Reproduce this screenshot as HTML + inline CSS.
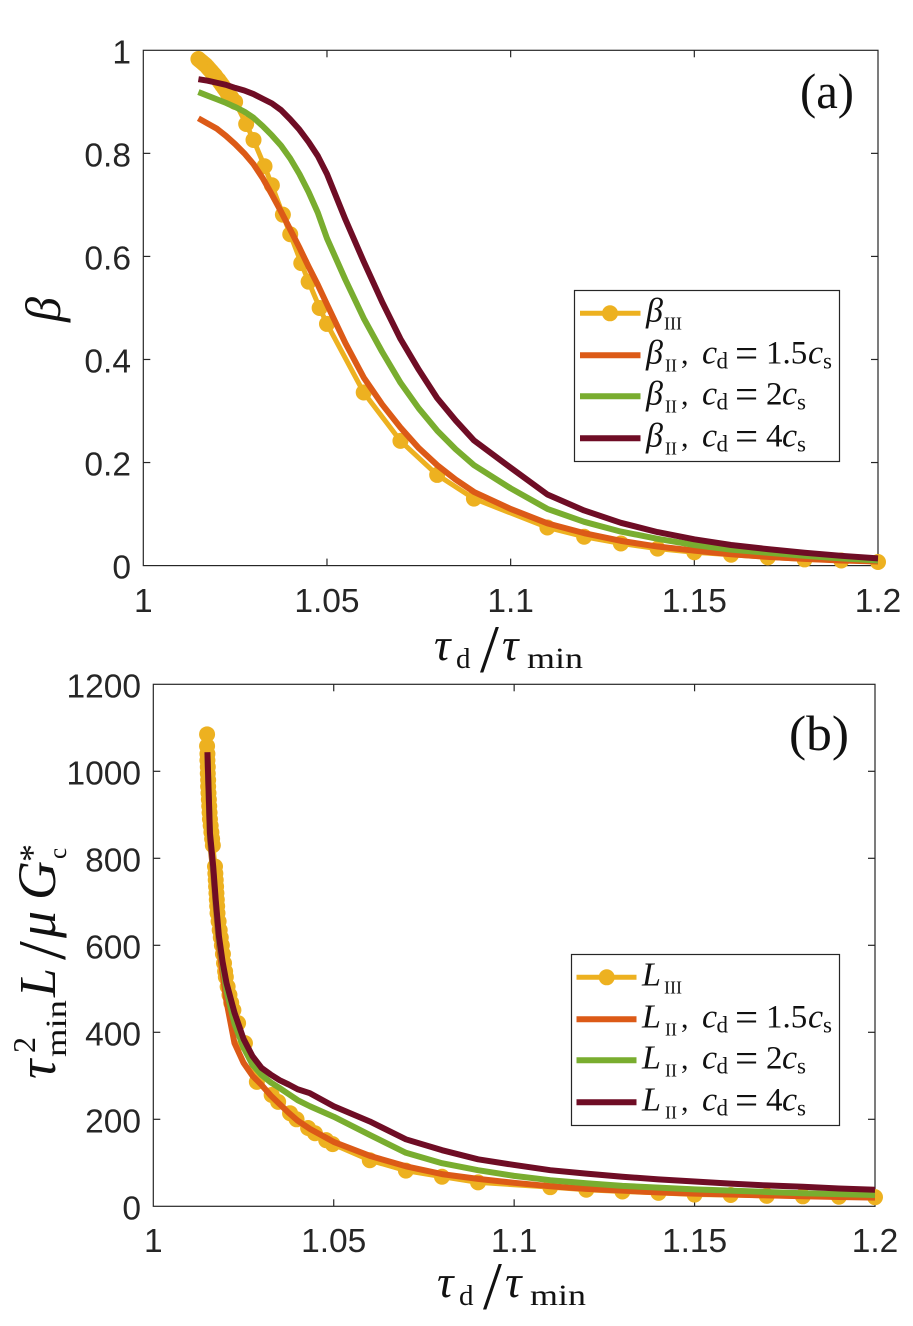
<!DOCTYPE html>
<html lang="en">
<head>
<meta charset="utf-8">
<title>Beta and L versus tau ratio</title>
<style>
html,body{margin:0;padding:0;background:#fff;}
svg{display:block;}
.tick{font-family:"Liberation Sans",sans-serif;font-size:33.5px;fill:#262626;}
.m{font-family:"Liberation Serif",serif;fill:#111;}
.i{font-style:italic;}
</style>
</head>
<body>
<svg id="chart" xmlns="http://www.w3.org/2000/svg" width="913" height="1326" viewBox="0 0 913 1326">
<rect width="913" height="1326" fill="#fff"/>
<g id="panelA"></g>
<g id="panelB"></g>

<!-- Panel a labels -->
<text class="m" x="800" y="108" font-size="50" textLength="54" lengthAdjust="spacingAndGlyphs">(a)</text>
<text class="m i" x="60" y="322" font-size="50" transform="rotate(-90 60 322)">β</text>
<g>
<text class="m i" x="434" y="660" font-size="46">τ</text>
<text class="m" x="456" y="668" font-size="29">d</text>
<text class="m" x="480" y="672" font-size="68">/</text>
<text class="m i" x="502" y="660" font-size="46">τ</text>
<text class="m" x="527" y="668" font-size="30" textLength="56" lengthAdjust="spacingAndGlyphs">min</text>
</g>

<!-- Panel b labels -->
<text class="m" x="789" y="750" font-size="50" textLength="60" lengthAdjust="spacingAndGlyphs">(b)</text>
<g>
<text class="m i" x="437" y="1297" font-size="46">τ</text>
<text class="m" x="459" y="1305" font-size="29">d</text>
<text class="m" x="483" y="1309" font-size="68">/</text>
<text class="m i" x="505" y="1297" font-size="46">τ</text>
<text class="m" x="530" y="1305" font-size="30" textLength="56" lengthAdjust="spacingAndGlyphs">min</text>
</g>
<g>
<text class="m i" x="55" y="1079" font-size="54" transform="rotate(-90 55 1079)">τ</text>
<text class="m" x="35" y="1053" font-size="32" transform="rotate(-90 35 1053)">2</text>
<text class="m" x="66" y="1057" font-size="30" textLength="57" lengthAdjust="spacingAndGlyphs" transform="rotate(-90 66 1057)">min</text>
<text class="m i" x="55" y="997" font-size="52" transform="rotate(-90 55 997)">L</text>
<text class="m" x="65" y="960" font-size="68" transform="rotate(-90 65 960)">/</text>
<text class="m i" x="55" y="938" font-size="54" transform="rotate(-90 55 938)">μ</text>
<text class="m i" x="55" y="900" font-size="54" transform="rotate(-90 55 900)">G</text>
<text class="m" x="44" y="862" font-size="36" transform="rotate(-90 44 862)">*</text>
<text class="m" x="66" y="859" font-size="25" transform="rotate(-90 66 859)">c</text>
</g>

<!-- Legend a -->
<g>
<rect x="574.5" y="290.5" width="265" height="171" fill="#fff" stroke="#262626" stroke-width="1.2"/>
<line x1="580" x2="640.5" y1="313.3" y2="313.3" stroke="#EDB120" stroke-width="5"/>
<circle cx="610" cy="313.3" r="8" fill="#EDB120"/>
<line x1="580" x2="640.5" y1="355.3" y2="355.3" stroke="#DC5A17" stroke-width="6"/>
<line x1="580" x2="640.5" y1="396.3" y2="396.3" stroke="#79AD2F" stroke-width="6"/>
<line x1="580" x2="640.5" y1="438.3" y2="438.3" stroke="#6F0D25" stroke-width="6"/>
<text class="m"><tspan class="i" x="646" y="321.3" font-size="34">β</tspan><tspan x="664" y="329.3" font-size="18">III</tspan></text>
<text class="m"><tspan class="i" x="646" y="363.3" font-size="34">β</tspan><tspan x="665" y="371.3" font-size="18">II</tspan><tspan x="681" y="363.3" font-size="30">,</tspan><tspan class="i" x="702" y="363.3" font-size="34">c</tspan><tspan x="716.5" y="368.3" font-size="23">d</tspan><tspan x="735" y="367" font-size="41">=</tspan><tspan x="766" y="363.3" font-size="33">1.5</tspan><tspan class="i" x="808" y="363.3" font-size="34">c</tspan><tspan x="823" y="368.3" font-size="23">s</tspan></text>
<text class="m"><tspan class="i" x="646" y="404.3" font-size="34">β</tspan><tspan x="665" y="412.3" font-size="18">II</tspan><tspan x="681" y="404.3" font-size="30">,</tspan><tspan class="i" x="702" y="404.3" font-size="34">c</tspan><tspan x="716.5" y="409.3" font-size="23">d</tspan><tspan x="735" y="408" font-size="41">=</tspan><tspan x="766" y="404.3" font-size="33">2</tspan><tspan class="i" x="782" y="404.3" font-size="34">c</tspan><tspan x="797" y="409.3" font-size="23">s</tspan></text>
<text class="m"><tspan class="i" x="646" y="446.3" font-size="34">β</tspan><tspan x="665" y="454.3" font-size="18">II</tspan><tspan x="681" y="446.3" font-size="30">,</tspan><tspan class="i" x="702" y="446.3" font-size="34">c</tspan><tspan x="716.5" y="451.3" font-size="23">d</tspan><tspan x="735" y="450" font-size="41">=</tspan><tspan x="766" y="446.3" font-size="33">4</tspan><tspan class="i" x="782" y="446.3" font-size="34">c</tspan><tspan x="797" y="451.3" font-size="23">s</tspan></text>
</g>

<!-- Legend b -->
<g>
<rect x="571.5" y="954.5" width="268" height="171" fill="#fff" stroke="#262626" stroke-width="1.2"/>
<line x1="576.5" x2="636.5" y1="977.3" y2="977.3" stroke="#EDB120" stroke-width="5"/>
<circle cx="606.7" cy="977.3" r="8" fill="#EDB120"/>
<line x1="576.5" x2="636.5" y1="1019.3" y2="1019.3" stroke="#DC5A17" stroke-width="6"/>
<line x1="576.5" x2="636.5" y1="1060.3" y2="1060.3" stroke="#79AD2F" stroke-width="6"/>
<line x1="576.5" x2="636.5" y1="1102.3" y2="1102.3" stroke="#6F0D25" stroke-width="6"/>
<text class="m"><tspan class="i" x="642" y="985.3" font-size="34">L</tspan><tspan x="664" y="993.3" font-size="18">III</tspan></text>
<text class="m"><tspan class="i" x="642" y="1027.3" font-size="34">L</tspan><tspan x="665" y="1035.3" font-size="18">II</tspan><tspan x="681" y="1027.3" font-size="30">,</tspan><tspan class="i" x="702" y="1027.3" font-size="34">c</tspan><tspan x="716.5" y="1032.3" font-size="23">d</tspan><tspan x="735" y="1031" font-size="41">=</tspan><tspan x="766" y="1027.3" font-size="33">1.5</tspan><tspan class="i" x="808" y="1027.3" font-size="34">c</tspan><tspan x="823" y="1032.3" font-size="23">s</tspan></text>
<text class="m"><tspan class="i" x="642" y="1068.3" font-size="34">L</tspan><tspan x="665" y="1076.3" font-size="18">II</tspan><tspan x="681" y="1068.3" font-size="30">,</tspan><tspan class="i" x="702" y="1068.3" font-size="34">c</tspan><tspan x="716.5" y="1073.3" font-size="23">d</tspan><tspan x="735" y="1072" font-size="41">=</tspan><tspan x="766" y="1068.3" font-size="33">2</tspan><tspan class="i" x="782" y="1068.3" font-size="34">c</tspan><tspan x="797" y="1073.3" font-size="23">s</tspan></text>
<text class="m"><tspan class="i" x="642" y="1110.3" font-size="34">L</tspan><tspan x="665" y="1118.3" font-size="18">II</tspan><tspan x="681" y="1110.3" font-size="30">,</tspan><tspan class="i" x="702" y="1110.3" font-size="34">c</tspan><tspan x="716.5" y="1115.3" font-size="23">d</tspan><tspan x="735" y="1114" font-size="41">=</tspan><tspan x="766" y="1110.3" font-size="33">4</tspan><tspan class="i" x="782" y="1110.3" font-size="34">c</tspan><tspan x="797" y="1115.3" font-size="23">s</tspan></text>
</g>
</svg>

<script>
// Shared tick values
const xTicks = [1, 1.05, 1.1, 1.15, 1.2];
const xTickLabels = ['1', '1.05', '1.1', '1.15', '1.2'];
const yTicksA = [0, 0.2, 0.4, 0.6, 0.8, 1];
const yTickLabelsA = ['0', '0.2', '0.4', '0.6', '0.8', '1'];
const yTicksB = [0, 200, 400, 600, 800, 1000, 1200];
const yTickLabelsB = ['0', '200', '400', '600', '800', '1000', '1200'];

// Panel (a): beta
const betaIIIx = [1.015, 1.0155, 1.016, 1.0165, 1.017, 1.0175, 1.018, 1.0185, 1.019, 1.0195, 1.02, 1.0205, 1.021, 1.0215, 1.022, 1.0225, 1.023, 1.024, 1.025, 1.028, 1.03, 1.033, 1.035, 1.038, 1.04, 1.043, 1.045, 1.048, 1.05, 1.06, 1.07, 1.08, 1.09, 1.11, 1.12, 1.13, 1.14, 1.15, 1.16, 1.17, 1.18, 1.19, 1.2];
const betaIIIy = [0.983, 0.98, 0.977, 0.974, 0.971, 0.967, 0.963, 0.959, 0.955, 0.951, 0.946, 0.942, 0.937, 0.932, 0.927, 0.922, 0.916, 0.908, 0.9, 0.857, 0.826, 0.775, 0.738, 0.681, 0.643, 0.587, 0.551, 0.5, 0.469, 0.336, 0.242, 0.176, 0.13, 0.074, 0.056, 0.043, 0.033, 0.026, 0.021, 0.016, 0.012, 0.01, 0.007];
const betaLineX = [1.015, 1.0175, 1.02, 1.0225, 1.025, 1.0275, 1.03, 1.0325, 1.035, 1.0375, 1.04, 1.0425, 1.045, 1.0475, 1.05, 1.055, 1.06, 1.065, 1.07, 1.075, 1.08, 1.085, 1.09, 1.1, 1.11, 1.12, 1.13, 1.14, 1.15, 1.16, 1.17, 1.18, 1.19, 1.2];
const betaII15 = [0.868, 0.858, 0.848, 0.834, 0.818, 0.8, 0.779, 0.752, 0.72, 0.687, 0.652, 0.617, 0.58, 0.545, 0.507, 0.432, 0.365, 0.313, 0.268, 0.228, 0.195, 0.167, 0.143, 0.11, 0.082, 0.063, 0.048, 0.037, 0.029, 0.022, 0.017, 0.013, 0.01, 0.008];
const betaII2 = [0.919, 0.912, 0.905, 0.898, 0.89, 0.881, 0.869, 0.853, 0.835, 0.815, 0.79, 0.76, 0.725, 0.685, 0.635, 0.555, 0.48, 0.415, 0.355, 0.305, 0.262, 0.226, 0.195, 0.15, 0.11, 0.085, 0.066, 0.052, 0.04, 0.031, 0.025, 0.019, 0.014, 0.01];
const betaII4 = [0.944, 0.941, 0.937, 0.933, 0.927, 0.922, 0.915, 0.906, 0.897, 0.884, 0.866, 0.846, 0.822, 0.795, 0.76, 0.672, 0.59, 0.512, 0.44, 0.38, 0.325, 0.282, 0.243, 0.19, 0.138, 0.107, 0.083, 0.065, 0.051, 0.04, 0.032, 0.025, 0.019, 0.014];

// Panel (b): L
const lenIIIx = [1.0149, 1.0149, 1.015, 1.015, 1.0151, 1.0151, 1.0152, 1.0152, 1.0153, 1.0154, 1.0155, 1.0156, 1.0157, 1.0159, 1.0161, 1.0163, 1.0165, 1.0171, 1.0172, 1.0173, 1.0174, 1.0175, 1.0176, 1.0177, 1.0178, 1.0181, 1.0184, 1.0187, 1.019, 1.0193, 1.0196, 1.0199, 1.0201, 1.0206, 1.0211, 1.0216, 1.0222, 1.0235, 1.0254, 1.0287, 1.0328, 1.0346, 1.0379, 1.0397, 1.0429, 1.0448, 1.0479, 1.0497, 1.06, 1.07, 1.08, 1.09, 1.11, 1.12, 1.13, 1.14, 1.15, 1.16, 1.17, 1.18, 1.19, 1.2];
const lenIIIy = [1085, 1058, 1040, 1025, 1010, 995, 980, 965, 950, 935, 920, 905, 890, 875, 860, 845, 830, 781, 765, 750, 735, 720, 705, 690, 674, 655, 635, 618, 600, 580, 559, 540, 527, 505, 486, 468, 451, 421, 375, 286, 256, 240, 214, 200, 180, 168, 152, 143, 106, 82, 68, 55, 44, 38, 34, 31, 27, 26, 24, 23, 22, 21];
const lenLineX = [1.015, 1.0157, 1.0166, 1.0173, 1.0182, 1.0192, 1.0203, 1.0225, 1.025, 1.0275, 1.03, 1.0325, 1.035, 1.0375, 1.04, 1.0434, 1.05, 1.06, 1.07, 1.08, 1.09, 1.1, 1.11, 1.12, 1.13, 1.14, 1.15, 1.16, 1.17, 1.18, 1.19, 1.2];
const lenII15 = [1035, 842, 768, 690, 600, 535, 470, 375, 330, 300, 279, 255, 235, 215, 197, 178, 148, 116, 92, 74, 63, 54, 46, 40, 36, 32, 29, 27, 25, 23, 21.5, 20];
const lenII2 = [1040, 852, 775, 698, 612, 555, 495, 420, 365, 325, 302, 285, 272, 258, 244, 230, 206, 164, 123, 99, 83, 70, 60, 53, 47, 43, 39, 36, 33, 30, 28, 26];
const lenII4 = [1044, 858, 781, 704, 620, 562, 513, 445, 385, 345, 318, 303, 290, 280, 269, 260, 230, 195, 154, 129, 108, 95, 83, 75, 68, 62, 57, 52, 48, 45, 41, 38];

const NS = 'http://www.w3.org/2000/svg';
const YELLOW = '#EDB120', ORANGE = '#DC5A17', GREEN = '#79AD2F', DARK = '#6F0D25', INK = '#262626';

function makeScale(d0, d1, r0, r1) {
  return function (v) { return r0 + (v - d0) / (d1 - d0) * (r1 - r0); };
}
function svgEl(tag, parent) {
  const el = document.createElementNS(NS, tag);
  parent.appendChild(el);
  return el;
}
function drawLine(parent, xs, ys, sx, sy, color, width, name) {
  const pl = svgEl('polyline', parent);
  
  
  pl.setAttribute('points', xs.map(function (x, i) { return sx(x).toFixed(2) + ',' + sy(ys[i]).toFixed(2); }).join(' '));
  pl.setAttribute('fill', 'none');
  pl.setAttribute('stroke', color);
  pl.setAttribute('stroke-width', width);
  pl.setAttribute('stroke-linejoin', 'round');
}
function drawPoints(parent, xs, ys, sx, sy, color, r, name) {
  xs.forEach(function (x, i) {
    const c = svgEl('circle', parent);
    
    
    c.setAttribute('cx', sx(x).toFixed(2));
    c.setAttribute('cy', sy(ys[i]).toFixed(2));
    c.setAttribute('r', r);
    c.setAttribute('fill', color);
  });
}
function drawAxes(parent, box, sx, sy, yTicks, yLabels, xBase, yRight) {
  const frame = svgEl('rect', parent);
  
  
  frame.setAttribute('x', box.l);
  frame.setAttribute('y', box.t);
  frame.setAttribute('width', box.r - box.l);
  frame.setAttribute('height', box.b - box.t);
  frame.setAttribute('fill', 'none');
  frame.setAttribute('stroke', INK);
  frame.setAttribute('stroke-width', '1.2');
  function tick(x1, y1, x2, y2) {
    const t = svgEl('line', parent);
    
    
    t.setAttribute('x1', x1);
    t.setAttribute('y1', y1);
    t.setAttribute('x2', x2);
    t.setAttribute('y2', y2);
    t.setAttribute('stroke', INK);
    t.setAttribute('stroke-width', '1.2');
  }
  xTicks.forEach(function (v, i) {
    const x = sx(v);
    if (i > 0 && i < xTicks.length - 1) {
      tick(x, box.b, x, box.b - 7);
      tick(x, box.t, x, box.t + 7);
    }
    const t = svgEl('text', parent);
    
    
    t.setAttribute('class', 'tick');
    t.setAttribute('x', x);
    t.setAttribute('y', xBase);
    t.setAttribute('text-anchor', 'middle');
    t.textContent = xTickLabels[i];
  });
  yTicks.forEach(function (v, i) {
    const y = sy(v);
    if (i > 0 && i < yTicks.length - 1) {
      tick(box.l, y, box.l + 7, y);
      tick(box.r, y, box.r - 7, y);
    }
    const t = svgEl('text', parent);
    
    
    t.setAttribute('class', 'tick');
    t.setAttribute('x', yRight);
    t.setAttribute('y', y + 13);
    t.setAttribute('text-anchor', 'end');
    t.textContent = yLabels[i];
  });
}

// Panel (a)
const gA = document.getElementById('panelA');
const boxA = { l: 143.3, r: 878, t: 50.3, b: 565.6 };
const xA = makeScale(1, 1.2, boxA.l, boxA.r);
const yA = makeScale(0, 1, boxA.b, boxA.t);
drawAxes(gA, boxA, xA, yA, yTicksA, yTickLabelsA, 612, 131);
drawLine(gA, betaIIIx, betaIIIy, xA, yA, YELLOW, 5, 'beta-iii-line');
drawPoints(gA, betaIIIx, betaIIIy, xA, yA, YELLOW, 8, 'beta-iii-point');
drawLine(gA, betaLineX, betaII15, xA, yA, ORANGE, 6, 'beta-ii-cd-1.5-line');
drawLine(gA, betaLineX, betaII2, xA, yA, GREEN, 6, 'beta-ii-cd-2-line');
drawLine(gA, betaLineX, betaII4, xA, yA, DARK, 6, 'beta-ii-cd-4-line');

// Panel (b)
const gB = document.getElementById('panelB');
const boxB = { l: 153.3, r: 875, t: 684.3, b: 1206.3 };
const xB = makeScale(1, 1.2, boxB.l, boxB.r);
const yB = makeScale(0, 1200, boxB.b, boxB.t);
drawAxes(gB, boxB, xB, yB, yTicksB, yTickLabelsB, 1252, 141);
drawLine(gB, lenIIIx, lenIIIy, xB, yB, YELLOW, 5, 'length-iii-line');
drawPoints(gB, lenIIIx, lenIIIy, xB, yB, YELLOW, 8, 'length-iii-point');
drawLine(gB, lenLineX, lenII15, xB, yB, ORANGE, 6, 'length-ii-cd-1.5-line');
drawLine(gB, lenLineX, lenII2, xB, yB, GREEN, 6, 'length-ii-cd-2-line');
drawLine(gB, lenLineX, lenII4, xB, yB, DARK, 6, 'length-ii-cd-4-line');
</script>
</body>
</html>
